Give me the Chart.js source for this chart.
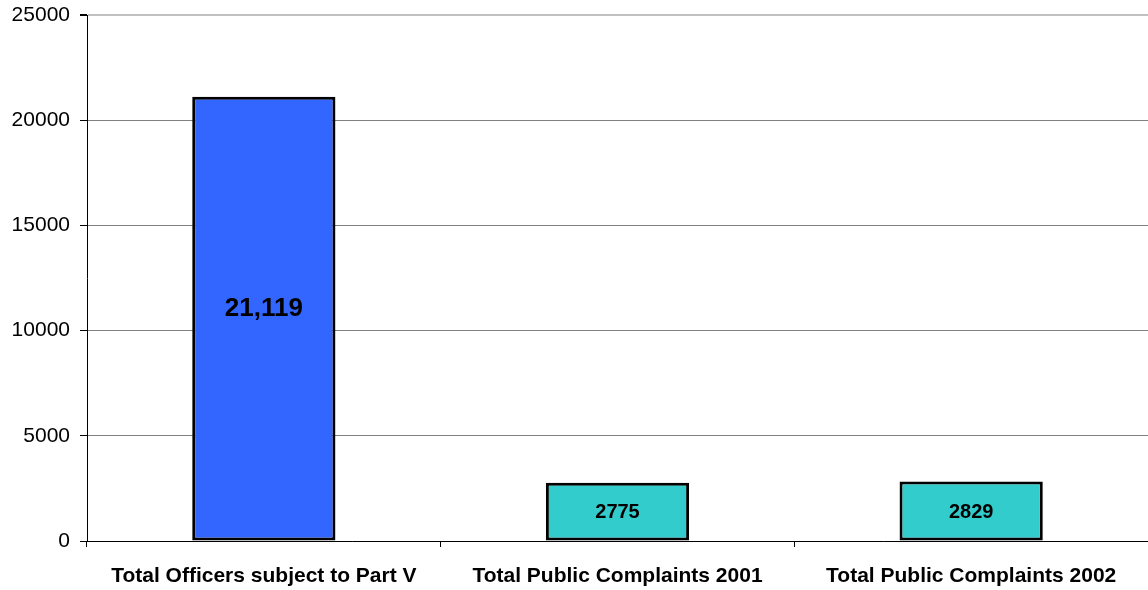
<!DOCTYPE html>
<html>
<head>
<meta charset="utf-8">
<script src="https://cdn.jsdelivr.net/npm/chart.js@4"></script>
<style>
  html, body { margin: 0; padding: 0; background: #fff; }
  #wrap { width: 1148px; height: 590px; }
</style>
</head>
<body>
<div id="wrap"><canvas id="officersChart"></canvas></div>
<script>
const categories = ['Total Officers subject to Part V', 'Total Public Complaints 2001', 'Total Public Complaints 2002'];
const counts = [21119, 2775, 2829];
const barColors = ['#3366FF', '#33CCCC', '#33CCCC'];
const yTicks = [0, 5000, 10000, 15000, 20000, 25000];

const FONT = '"Liberation Sans", Arial, sans-serif';

// first bar gets a big comma-formatted label, the complaint bars a small plain one
function labelFor(v, i) {
    return i === 0 ? v.toLocaleString('en-US') : String(v);
}

const barLabels = {
    id: 'barLabels',
    afterDatasetsDraw(chart) {
        const ctx = chart.ctx;
        const meta = chart.getDatasetMeta(0);
        ctx.save();
        ctx.fillStyle = '#000';
        ctx.textAlign = 'center';
        ctx.textBaseline = 'middle';
        meta.data.forEach((bar, i) => {
            const size = i === 0 ? 26 : 20;
            ctx.font = `bold ${size}px ${FONT}`;
            const mid = (bar.y + bar.base) / 2;
            ctx.fillText(labelFor(counts[i], i), bar.x, i === 0 ? mid - 10 : mid + 1);
        });
        ctx.restore();
    }
};

new Chart(document.getElementById('officersChart'), {
    type: 'bar',
    data: {
        labels: categories,
        datasets: [{
            data: counts,
            backgroundColor: barColors,
            borderColor: '#000',
            borderWidth: 3,
            borderSkipped: false,
            categoryPercentage: 1,
            barPercentage: 0.405
        }]
    },
    options: {
        responsive: true,
        maintainAspectRatio: false,
        animation: false,
        devicePixelRatio: 1,
        layout: { padding: { top: 5, right: 0, bottom: 0, left: 0 } },
        plugins: {
            legend: { display: false },
            tooltip: { enabled: false }
        },
        scales: {
            x: {
                grid: {
                    offset: true,
                    drawOnChartArea: false,
                    tickLength: 6,
                    tickColor: '#000'
                },
                border: { color: '#000', width: 1 },
                ticks: {
                    color: '#000',
                    padding: 17,
                    maxRotation: 0,
                    autoSkip: false,
                    font: { family: FONT, size: 21, weight: 'bold' }
                },
                afterFit(scale) { scale.height = 49; }
            },
            y: {
                min: 0,
                max: 25000,
                afterBuildTicks(scale) {
                    scale.ticks = yTicks.map(v => ({ value: v }));
                },
                grid: {
                    color: ctx => ctx.tick && ctx.tick.value === 25000 ? '#c0c0c0' : '#808080',
                    lineWidth: ctx => ctx.tick && ctx.tick.value === 25000 ? 2 : 1,
                    tickLength: 7,
                    tickColor: '#000'
                },
                border: { color: '#000', width: 1 },
                ticks: {
                    color: '#000',
                    padding: 10,
                    callback: v => String(v),
                    font: { family: FONT, size: 21, lineHeight: 0.5 }
                },
                afterFit(scale) { scale.width = 87; }
            }
        }
    },
    plugins: [barLabels]
});
</script>
</body>
</html>
